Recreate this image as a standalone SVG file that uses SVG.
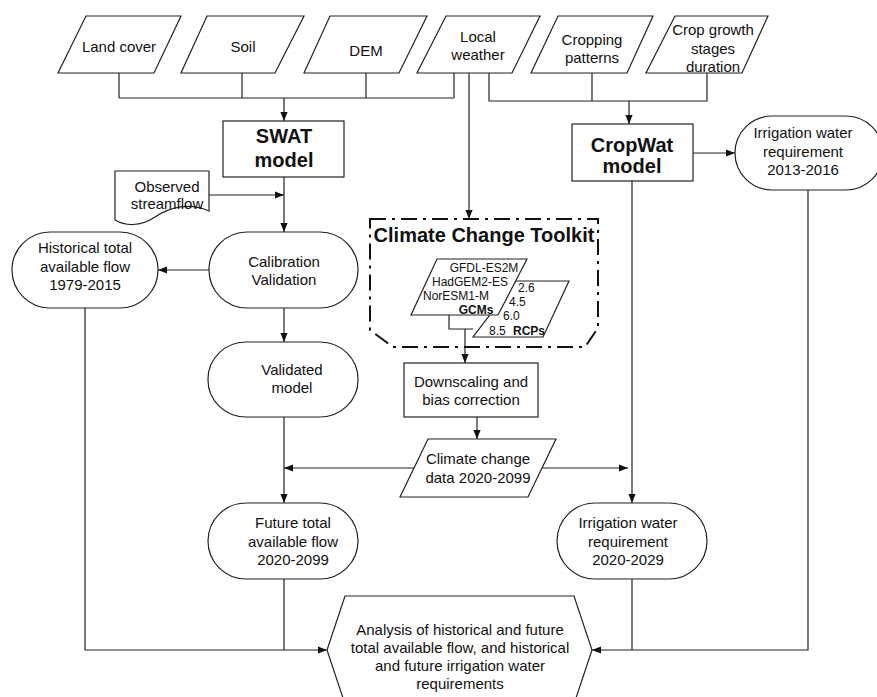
<svg xmlns="http://www.w3.org/2000/svg" width="877" height="697" viewBox="0 0 877 697">
<defs>
<marker id="ah" viewBox="0 0 10 10" refX="10" refY="5" markerWidth="9" markerHeight="9" markerUnits="userSpaceOnUse" orient="auto"><path d="M0,1 L10,5 L0,9 z" fill="#111"/></marker>
<style>
.s{fill:#fff;stroke:#222;stroke-width:1.2}
.c{fill:none;stroke:#222;stroke-width:1.2}
.a{fill:none;stroke:#222;stroke-width:1.2;marker-end:url(#ah)}
text{font-family:"Liberation Sans",Arial,sans-serif;font-size:15px;fill:#111;text-anchor:middle}
.b{font-weight:bold;font-size:20px}
.sm{font-size:12px}
.st{text-anchor:start}
</style>
</defs>
<rect width="877" height="697" fill="#fff"/>

<g id="connectors">
<path class="c" d="M119,73 V98 M242,73 V98 M366,73 V98 M454,73 V98 M119,98 H454"/>
<path class="a" d="M284,98 V121"/>
<path class="a" d="M469,73 V219"/>
<path class="c" d="M489,73 V101 H707 V73 M592,73 V101"/>
<path class="a" d="M629,101 V124"/>
<path class="a" d="M209,195 H284"/>
<path class="a" d="M284,177 V232"/>
<path class="a" d="M209,270 H158"/>
<path class="a" d="M284,308 V342"/>
<path class="a" d="M284,417 V503"/>
<path class="a" d="M414,468 H284"/>
<path class="a" d="M541,468 H628"/>
<path class="a" d="M693,153 H735"/>
<path class="a" d="M632,181 V503"/>
<path class="c" d="M449,315 V329 H473"/>
<path class="a" d="M465,329 V363"/>
<path class="a" d="M477,417 V439"/>
<path class="a" d="M85,308 V650 H327"/>
<path class="c" d="M284,579 V650"/>
<path class="a" d="M808,190 V650 H592"/>
<path class="c" d="M632,579 V650"/>
</g>

<g id="land-cover"><polygon class="s" points="86,16 181,16 154,73 58,73"/><text x="119" y="52">Land cover</text></g>
<g id="soil"><polygon class="s" points="207,16 304,16 275,73 181,73"/><text x="243" y="52">Soil</text></g>
<g id="dem"><polygon class="s" points="330,16 427,16 399,73 304,73"/><text x="366" y="56">DEM</text></g>
<g id="local-weather"><polygon class="s" points="446,16 540,16 512,73 417,73"/><text x="478" y="42">Local</text><text x="478" y="60">weather</text></g>
<g id="cropping-patterns"><polygon class="s" points="558,16 653,16 627,73 531,73"/><text x="592" y="45">Cropping</text><text x="592" y="63">patterns</text></g>
<g id="crop-growth"><polygon class="s" points="675,16 768,16 742,73 646,73"/><text x="713" y="35">Crop growth</text><text x="713" y="54">stages</text><text x="713" y="72">duration</text></g>

<g id="swat"><rect class="s" x="223" y="121" width="121" height="56"/><text class="b" x="284" y="143">SWAT</text><text class="b" x="284" y="167">model</text></g>
<g id="observed"><path class="s" d="M115,171 H209 V211 C190,202 170,207 155,217 C140,227 125,226 115,220 Z"/><text x="167" y="192">Observed</text><text x="167" y="209">streamflow</text></g>
<g id="calibration"><rect class="s" x="209" y="232" width="149" height="76" rx="38" ry="38"/><text x="284" y="267">Calibration</text><text x="284" y="285">Validation</text></g>
<g id="historical"><rect class="s" x="12" y="232" width="146" height="76" rx="38" ry="38"/><text x="85" y="253">Historical total</text><text x="85" y="272">available flow</text><text x="85" y="290">1979-2015</text></g>
<g id="validated"><rect class="s" x="208" y="342" width="150" height="75" rx="38" ry="37"/><text x="292" y="375">Validated</text><text x="292" y="393">model</text></g>

<g id="cropwat"><rect class="s" x="572" y="124" width="121" height="57"/><text class="b" x="632" y="152">CropWat</text><text class="b" x="632" y="173">model</text></g>
<g id="irrigation-hist"><rect class="s" x="735" y="116" width="148" height="74" rx="37" ry="37"/><text x="803" y="138">Irrigation water</text><text x="803" y="157">requirement</text><text x="803" y="175">2013-2016</text></g>

<g id="toolkit">
<path d="M370,219 H598 V328 L585,347 H393 L370,330 Z" fill="none" stroke="#111" stroke-width="2" stroke-dasharray="16,6,3,6"/>
<text class="b" x="484" y="242">Climate Change Toolkit</text>
<g id="rcps"><polygon class="s" points="516,281 569,281 543,337 473,337"/>
<text class="sm st" x="518" y="292">2.6</text><text class="sm st" x="509" y="306">4.5</text><text class="sm st" x="503" y="320">6.0</text><text class="sm st" x="489" y="335">8.5</text><text class="sm st" x="513" y="335" font-weight="bold">RCPs</text></g>
<g id="gcms"><polygon class="s" points="437,259 527,259 498,315 411,315"/>
<text class="sm" x="484" y="272">GFDL-ES2M</text><text class="sm" x="470" y="286">HadGEM2-ES</text><text class="sm" x="456" y="300">NorESM1-M</text><text class="sm" x="476" y="314" font-weight="bold">GCMs</text></g>
</g>

<g id="downscaling"><rect class="s" x="404" y="363" width="134" height="54"/><text x="471" y="387">Downscaling and</text><text x="471" y="405">bias correction</text></g>
<g id="climate-data"><polygon class="s" points="428,439 556,439 528,497 400,497"/><text x="478" y="464">Climate change</text><text x="478" y="483">data 2020-2099</text></g>

<g id="future-flow"><rect class="s" x="208" y="503" width="150" height="76" rx="38" ry="38"/><text x="293" y="528">Future total</text><text x="293" y="547">available flow</text><text x="293" y="565">2020-2099</text></g>
<g id="irrigation-future"><rect class="s" x="557" y="503" width="150" height="76" rx="38" ry="38"/><text x="628" y="528">Irrigation water</text><text x="628" y="547">requirement</text><text x="628" y="565">2020-2029</text></g>

<g id="analysis"><polygon class="s" points="345,596 574,596 592,650 574,704 345,704 327,650"/>
<text x="460" y="635" font-size="15.5">Analysis of historical and future</text>
<text x="460" y="653" font-size="15.5">total available flow, and historical</text>
<text x="460" y="671" font-size="15.5">and future irrigation water</text>
<text x="460" y="689" font-size="15.5">requirements</text></g>
</svg>
